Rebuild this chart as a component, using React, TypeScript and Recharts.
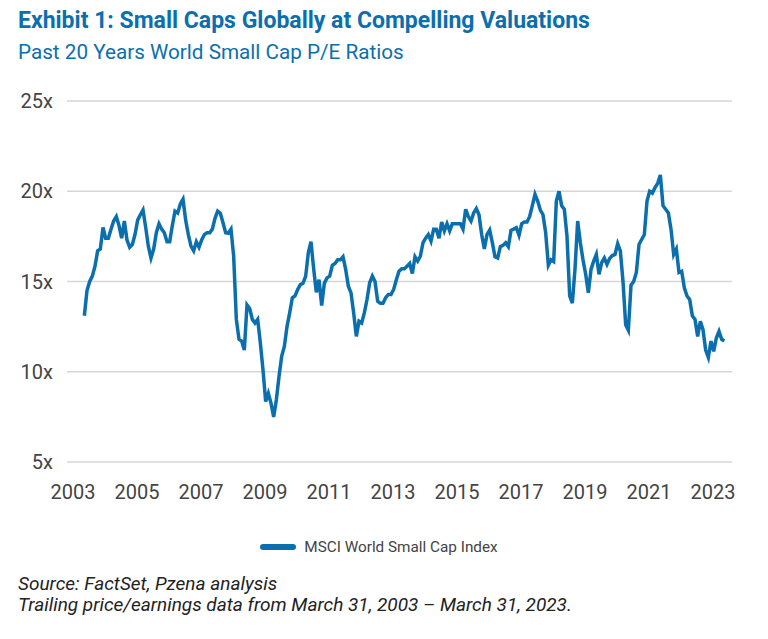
import { LineChart, Line, XAxis, YAxis, CartesianGrid, Legend } from 'recharts';

const START_YEAR = 2003;
const START_MONTH = 3; // first observation: March 2003, monthly to March 2023
const SERIES_NAME = 'MSCI World Small Cap Index';

// trailing P/E
const peRatios = [
  13.1, 14.5, 15.0, 15.3, 15.85, 16.7, 16.8, 18.0, 17.4, 17.4,
  17.9, 18.35, 18.6, 18.1, 17.4, 18.35, 17.3, 16.9, 17.05, 17.6,
  18.4, 18.7, 18.96, 18.0, 16.96, 16.3, 16.8, 17.7, 18.2, 17.9,
  17.7, 17.2, 17.2, 18.1, 18.9, 18.8, 19.3, 19.56, 18.4, 17.6,
  16.96, 16.7, 17.2, 16.9, 17.3, 17.6, 17.7, 17.7, 17.9, 18.5,
  18.9, 18.78, 18.26, 17.7, 17.67, 17.9, 16.4, 12.9, 11.8, 11.7,
  11.2, 13.7, 13.5, 12.9, 12.7, 12.9, 11.6, 10.1, 8.35, 8.8,
  8.26, 7.5, 8.44, 9.74, 10.85, 11.4, 12.5, 13.26, 14.1, 14.2,
  14.55, 14.83, 14.9, 15.3, 16.6, 17.2, 15.7, 14.4, 15.1, 13.67,
  14.9, 15.2, 15.3, 15.9, 16.0, 16.2, 16.2, 16.37, 15.67, 14.74,
  14.37, 13.26, 11.96, 12.8, 12.7, 13.26, 14.0, 14.93, 15.3, 15.0,
  13.9, 13.8, 13.8, 14.1, 14.28, 14.28, 14.56, 15.1, 15.57, 15.7,
  15.7, 15.85, 16.0, 15.44, 16.37, 16.13, 16.4, 17.15, 17.4, 17.6,
  17.24, 17.9, 17.9, 17.4, 18.3, 17.8, 18.2, 17.8, 18.2, 18.2,
  18.2, 18.2, 17.9, 19.0, 18.6, 18.35, 18.8, 19.04, 18.7, 17.6,
  16.8, 17.6, 17.85, 17.15, 16.37, 16.3, 16.93, 17.0, 17.15, 16.93,
  17.83, 17.9, 17.98, 17.56, 18.2, 18.3, 18.3, 18.6, 19.2, 19.83,
  19.46, 18.96, 18.7, 17.7, 15.9, 16.2, 16.1, 19.46, 20.0, 19.2,
  19.0, 17.5, 14.2, 13.8, 15.7, 18.35, 17.15, 16.2, 15.4, 14.37,
  15.67, 16.13, 16.5, 15.4, 16.04, 16.3, 15.95, 16.28, 16.44, 16.5,
  17.1, 16.7, 15.0, 12.6, 12.3, 14.8, 15.0, 15.5, 17.05, 17.33,
  17.6, 19.46, 20.0, 19.9, 20.2, 20.44, 20.9, 19.2, 19.0, 18.8,
  17.9, 16.5, 16.8, 15.5, 15.57, 14.65, 14.2, 14.0, 13.1, 12.9,
  11.96, 12.8, 12.33, 11.2, 10.8, 11.7, 11.13, 11.87, 12.24, 11.8,
  11.7,
];

const yearTicks = [2003, 2005, 2007, 2009, 2011, 2013, 2015, 2017, 2019, 2021, 2023];
const peTicks = [5, 10, 15, 20, 25];

const data = peRatios.map((pe, i) => ({
  date: START_YEAR + (START_MONTH - 1 + i) / 12,
  pe,
}));

const BLUE = '#0b6fae';
const TEXT = '#444444';
const FONT = 'Roboto, "Liberation Sans", sans-serif';

const XTick = ({ x, y, payload }: any) => (
  <text x={x - 6} y={y} dy={35} textAnchor="middle" fill={TEXT} fontSize={20} fontFamily={FONT}>
    {payload.value}
  </text>
);

const YTick = ({ x, y, payload }: any) => (
  <text x={x} y={y} dy={7} textAnchor="end" fill={TEXT} fontSize={20} fontFamily={FONT}>
    {`${payload.value}x`}
  </text>
);

const LegendContent = () => (
  <div style={{ display: 'flex', justifyContent: 'center', alignItems: 'center', height: 20, paddingRight: 10 }}>
    <div style={{ width: 36, height: 6, borderRadius: 3, background: BLUE, marginRight: 8 }} />
    <span style={{ fontFamily: FONT, fontSize: 15.3, color: TEXT }}>{SERIES_NAME}</span>
  </div>
);

export default function App() {
  return (
    <div style={{ position: 'relative', width: 768, height: 639, background: '#fff', overflow: 'hidden' }}>
      <style>{'body{margin:0}'}</style>
      <div
        style={{
          position: 'absolute', left: 18, top: 7, fontFamily: FONT, fontSize: 23, fontWeight: 700,
          lineHeight: '27px', color: BLUE, whiteSpace: 'nowrap',
        }}
      >
        Exhibit 1: Small Caps Globally at Compelling Valuations
      </div>
      <div
        style={{
          position: 'absolute', left: 18, top: 40, fontFamily: FONT, fontSize: 20.7, lineHeight: '24px',
          color: BLUE, whiteSpace: 'nowrap',
        }}
      >
        Past 20 Years World Small Cap P/E Ratios
      </div>
      <div style={{ position: 'absolute', left: 0, top: 0 }}>
        <LineChart width={768} height={639} data={data} margin={{ top: 101, right: 36, bottom: 127, left: 12 }}>
          <CartesianGrid horizontal vertical={false} stroke="#d6d6d6" strokeWidth={1.5} />
          <XAxis
            dataKey="date"
            type="number"
            domain={[2002.625, 2023.406]}
            ticks={yearTicks}
            axisLine={false}
            tickLine={false}
            tickSize={0}
            tick={<XTick />}
            allowDataOverflow
          />
          <YAxis
            type="number"
            domain={[5, 25]}
            ticks={peTicks}
            width={55}
            axisLine={false}
            tickLine={false}
            tickSize={0}
            tickMargin={14}
            tick={<YTick />}
          />
          <Legend
            verticalAlign="bottom"
            content={<LegendContent />}
            wrapperStyle={{ top: 537, left: 0, width: 768, height: 20 }}
          />
          <Line
            type="linear"
            dataKey="pe"
            name={SERIES_NAME}
            stroke={BLUE}
            strokeWidth={3.5}
            dot={false}
            isAnimationActive={false}
          />
        </LineChart>
      </div>
      <div
        style={{
          position: 'absolute', left: 18, top: 573, fontFamily: FONT, fontSize: 19, fontStyle: 'italic',
          lineHeight: '21px', color: '#222', whiteSpace: 'nowrap',
        }}
      >
        <div>Source: FactSet, Pzena analysis</div>
        <div>Trailing price/earnings data from March 31, 2003 – March 31, 2023.</div>
      </div>
    </div>
  );
}
